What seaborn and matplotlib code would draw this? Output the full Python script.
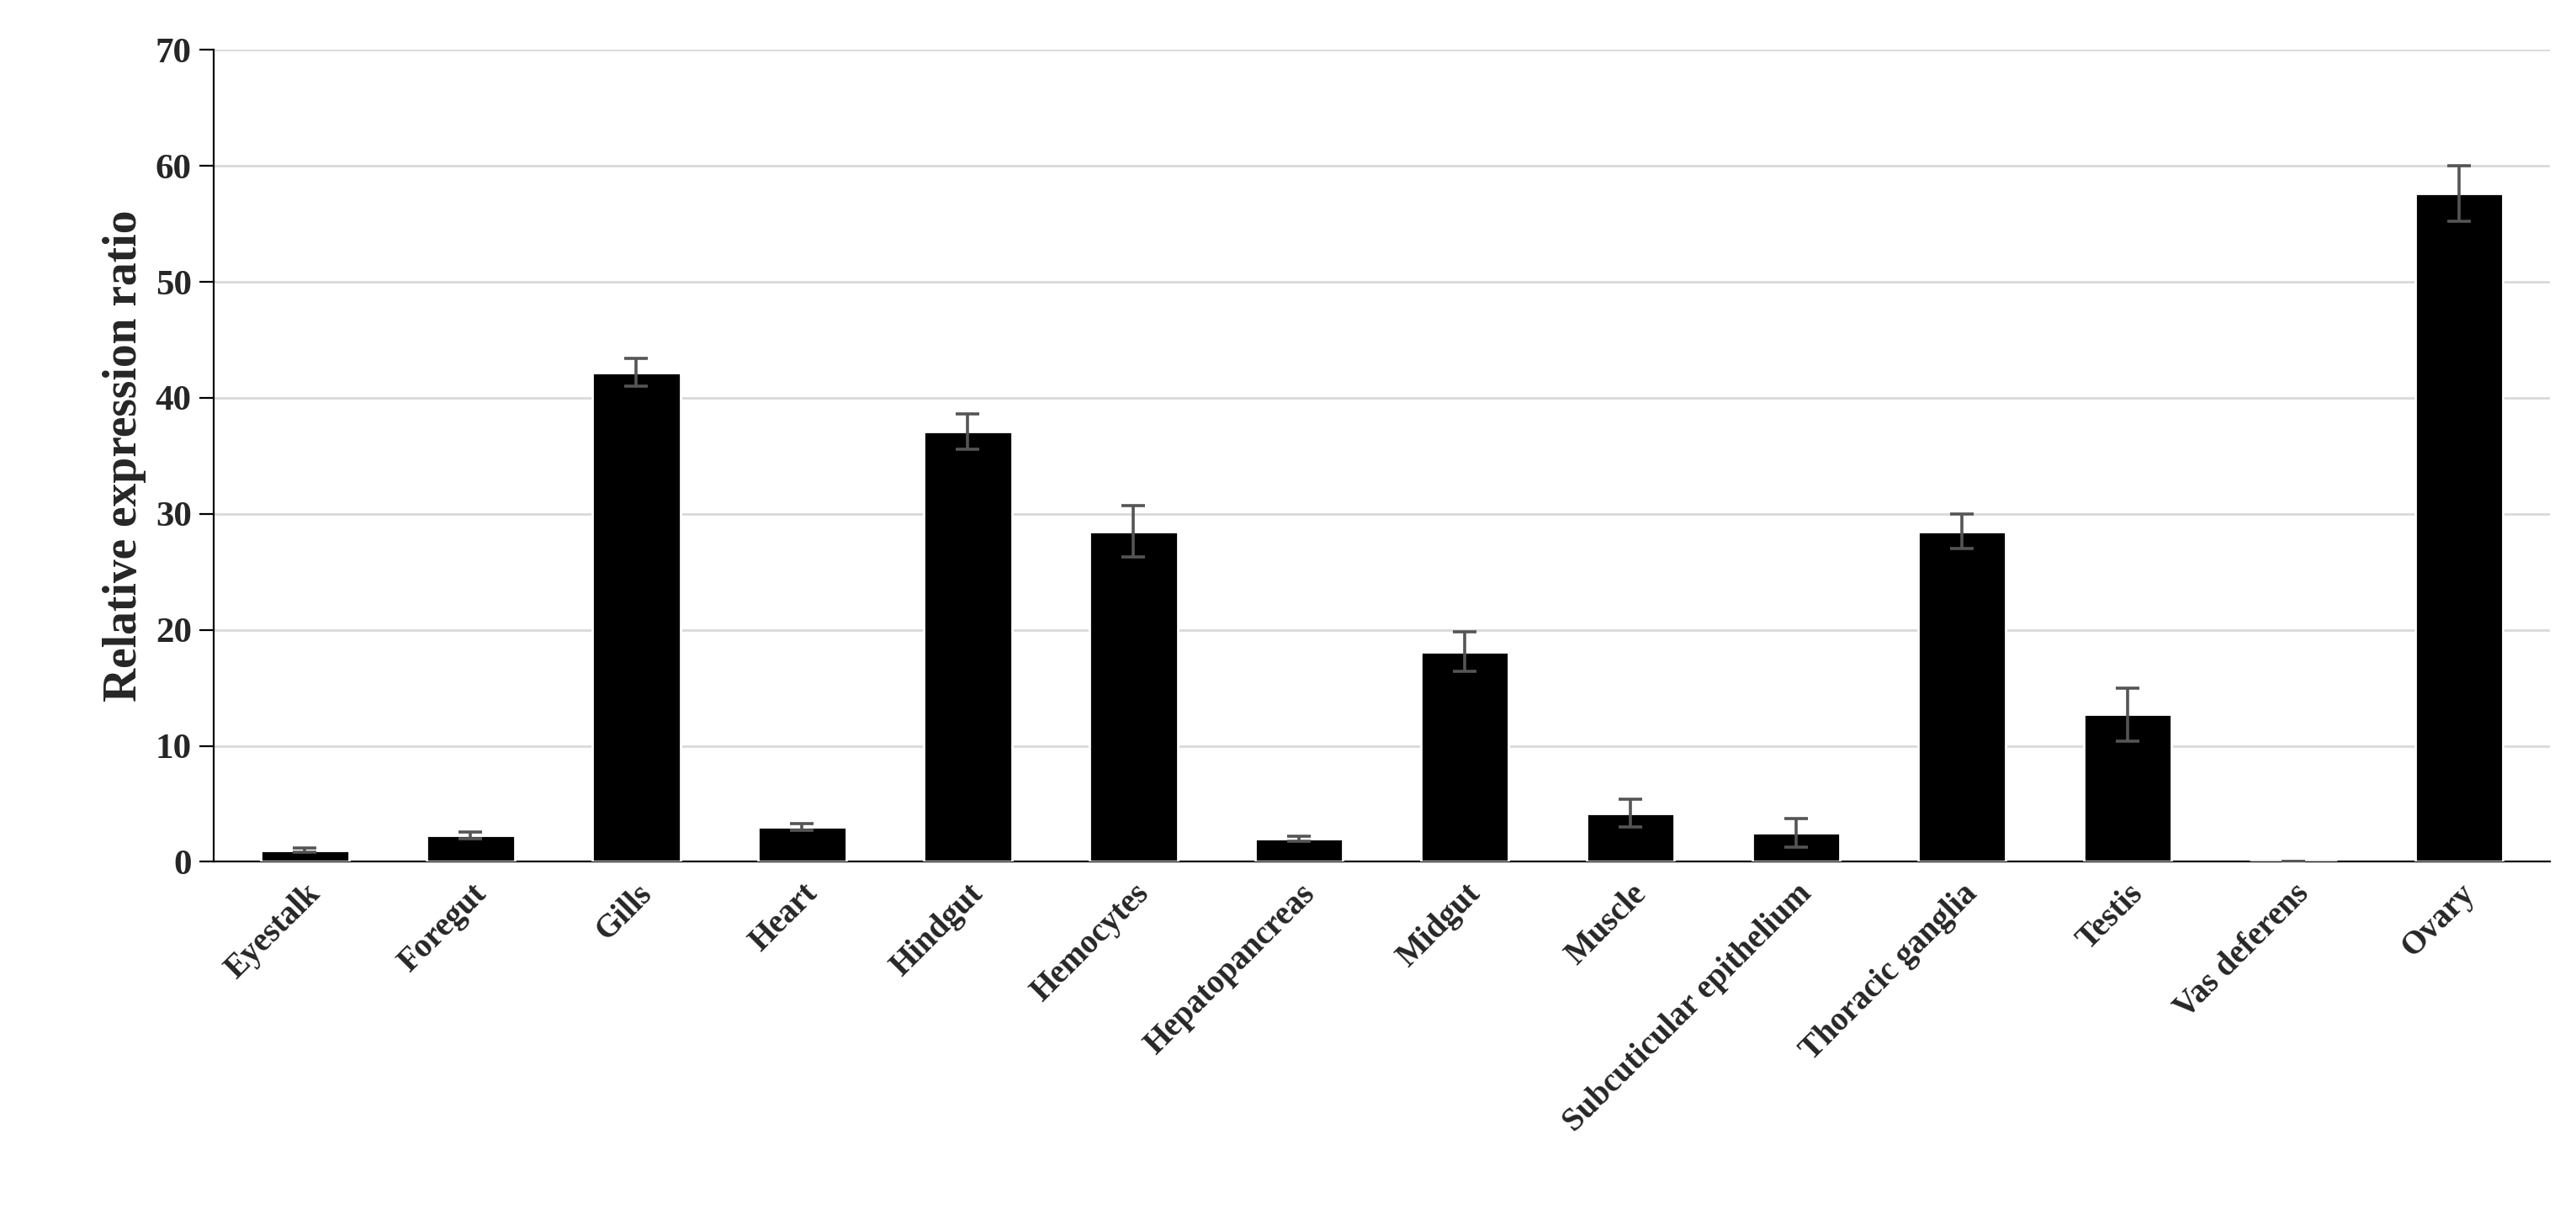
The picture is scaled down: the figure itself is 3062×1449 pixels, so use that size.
import matplotlib
matplotlib.use("Agg")
import matplotlib.pyplot as plt
import seaborn as sns
import pandas as pd

tissues = ["Eyestalk", "Foregut", "Gills", "Heart", "Hindgut", "Hemocytes",
           "Hepatopancreas", "Midgut", "Muscle", "Subcuticular epithelium",
           "Thoracic ganglia", "Testis", "Vas deferens", "Ovary"]
ratio = [1.0, 2.3, 42.2, 3.0, 37.1, 28.5, 2.0, 18.1, 4.2, 2.5, 28.5, 12.7, 0.05, 57.6]
err = [0.2, 0.3, 1.2, 0.3, 1.5, 2.2, 0.2, 1.7, 1.2, 1.2, 1.5, 2.3, 0.0, 2.4]

sns.set_style("white")
plt.rcParams['font.family'] = ['Liberation Serif', 'DejaVu Serif']
plt.rcParams['font.weight'] = 'bold'

df = pd.DataFrame({"tissue": tissues, "ratio": ratio})
fig = plt.figure(figsize=(15.31, 7.245), dpi=200)
ax = fig.add_axes([0.083, 0.293, 0.907, 0.666])
sns.barplot(data=df, x="tissue", y="ratio", color="black", width=0.53,
            saturation=1, errorbar=None, ax=ax, zorder=3)
ax.errorbar(range(len(tissues)), ratio, yerr=err, fmt="none", ecolor="#555555",
            elinewidth=1.3, capsize=5, capthick=1.3, zorder=4)

ax.set_ylim(0, 70)
ax.set_yticks(range(0, 71, 10))
ax.yaxis.grid(True, color="#d9d9d9", linewidth=1, zorder=0)
ax.set_xlim(-0.55, len(tissues) - 0.45)
for s in ["top", "right"]:
    ax.spines[s].set_visible(False)
ax.spines["left"].set_color("black")
ax.spines["bottom"].set_color("black")
ax.tick_params(axis="y", which="both", left=True, length=6, labelsize=15.5, color="black")
ax.tick_params(axis="x", bottom=False, labelsize=14)
ax.set_xticks(range(len(tissues)))
ax.set_xticklabels(tissues, rotation=45, ha="right", rotation_mode="anchor", fontweight="bold")
for lbl in ax.get_yticklabels():
    lbl.set_fontweight("bold")
ax.set_xlabel("")
ax.set_ylabel("Relative expression ratio", fontsize=20, fontweight="bold")

fig.savefig("out.png", dpi=200)
